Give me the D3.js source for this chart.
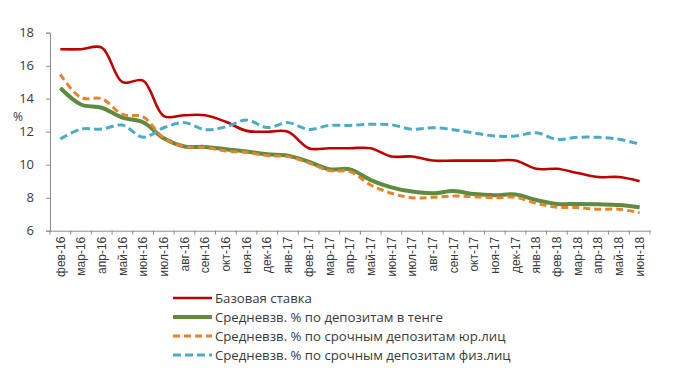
<!DOCTYPE html>
<html><head><meta charset="utf-8">
<script src="https://cdn.jsdelivr.net/npm/d3@7"></script>
<style>body{margin:0;background:#fff;} svg{display:block;font-family:"Open Sans",sans-serif;}</style>
</head><body>
<svg id="c" width="680" height="372"></svg>
<script>
const categories = ["фев-16","мар-16","апр-16","май-16","июн-16","июл-16","авг-16","сен-16","окт-16","ноя-16","дек-16","янв-17","фев-17","мар-17","апр-17","май-17","июн-17","июл-17","авг-17","сен-17","окт-17","ноя-17","дек-17","янв-18","фев-18","мар-18","апр-18","май-18","июн-18"];
const baseRate = [17,17,17.1,15,15.1,12.95,13,13,12.6,12.05,12,12,11,11,11,11,10.5,10.5,10.25,10.25,10.25,10.25,10.25,9.75,9.75,9.5,9.25,9.25,9];
const depTenge = [14.65,13.65,13.45,12.85,12.57,11.6,11.1,11.08,10.93,10.8,10.63,10.55,10.18,9.72,9.72,9.07,8.63,8.37,8.27,8.4,8.22,8.15,8.2,7.86,7.62,7.62,7.6,7.56,7.42];
const depCorp = [15.47,14.06,14.0,13.05,12.9,11.6,11.1,11.05,10.83,10.75,10.55,10.49,10.12,9.64,9.58,8.77,8.27,8.0,8.02,8.1,8.06,8.0,8.02,7.66,7.42,7.4,7.3,7.3,7.09];
const depPersons = [11.56,12.16,12.16,12.4,11.66,12.24,12.55,12.12,12.3,12.71,12.25,12.55,12.14,12.38,12.38,12.45,12.42,12.15,12.24,12.12,11.92,11.74,11.74,11.94,11.54,11.66,11.66,11.54,11.25];
const seriesNames = ["Базовая ставка","Средневзв. % по депозитам в тенге","Средневзв. % по срочным депозитам юр.лиц","Средневзв. % по срочным депозитам физ.лиц"];
const yTicks = [6,8,10,12,14,16,18];

const series = [
  {name: seriesNames[0], values: baseRate, color: "#C00000", width: 2.6, dash: null},
  {name: seriesNames[1], values: depTenge, color: "#5E8B40", width: 4, dash: null},
  {name: seriesNames[2], values: depCorp, color: "#E8832C", width: 3, dash: "7,4"},
  {name: seriesNames[3], values: depPersons, color: "#4BACC6", width: 3, dash: "8,4"}
];

const svg = d3.select("#c");
const L = 50, R = 650, T = 32.7, B = 230.7;
const x = d3.scaleBand().domain(categories).range([L, R]).paddingInner(0).paddingOuter(0);
const y = d3.scaleLinear().domain([6, 18]).range([B, T]);
const axisColor = "#8c8c8c", textColor = "#3a3a3a";

// y axis
const gy = svg.append("g").attr("transform", `translate(${L},0)`)
  .call(d3.axisLeft(y).tickValues(yTicks).tickSize(4).tickPadding(12).tickFormat(d3.format("d")));
gy.select(".domain").attr("stroke", axisColor);
gy.selectAll(".tick line").attr("stroke", axisColor);
gy.selectAll(".tick text").attr("fill", textColor).style("font-size", "13px").style("font-family", "Open Sans");

svg.append("text").attr("x", 13).attr("y", y(12.9)).attr("dy", "0.35em")
  .attr("fill", textColor).style("font-size", "12px").text("%");

// x axis
const gx = svg.append("g").attr("transform", `translate(0,${B})`)
  .call(d3.axisBottom(x).tickSize(0).tickPadding(0));
gx.select(".domain").attr("stroke", axisColor);
gx.selectAll(".tick text").attr("fill", textColor).style("font-size", "12px")
  .attr("transform", "rotate(-90)").attr("text-anchor", "end")
  .attr("x", -6).attr("y", 0).attr("dy", "0.35em");
const bounds = categories.map(c => x(c)).concat([x.range()[1]]);
gx.selectAll("line.bt").data(bounds).join("line").attr("class", "bt")
  .attr("x1", d => d).attr("x2", d => d).attr("y1", 0).attr("y2", 4).attr("stroke", axisColor);

// lines
const line = d3.line().x((d, i) => x(categories[i]) + x.bandwidth() / 2).y(d => y(d)).curve(d3.curveCatmullRom.alpha(0.5));
series.forEach(s => {
  svg.append("path").datum(s.values).attr("d", line).attr("fill", "none")
    .attr("stroke", s.color).attr("stroke-width", s.width)
    .attr("stroke-dasharray", s.dash).attr("stroke-linejoin", "round");
});

// legend
const lg = svg.append("g");
series.forEach((s, i) => {
  const yy = 298 + i * 19;
  lg.append("line").attr("x1", 173).attr("x2", 212).attr("y1", yy).attr("y2", yy)
    .attr("stroke", s.color).attr("stroke-width", s.width).attr("stroke-dasharray", s.dash);
  lg.append("text").attr("x", 215).attr("y", yy).attr("dy", "0.35em")
    .attr("fill", textColor).style("font-size", "13.2px").text(s.name);
});
</script>
</body></html>
